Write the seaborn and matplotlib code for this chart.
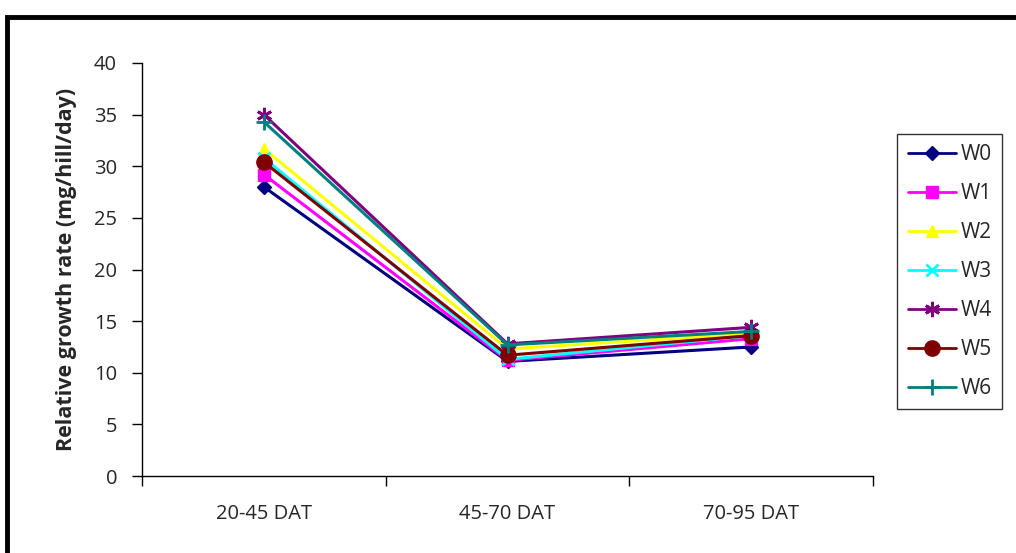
import matplotlib
matplotlib.use("Agg")
import matplotlib.pyplot as plt
import seaborn as sns
import pandas as pd
from matplotlib.patches import Rectangle

# Relative growth rate per treatment over three growth intervals
periods = ["20-45 DAT", "45-70 DAT", "70-95 DAT"]
treatments = ["W0", "W1", "W2", "W3", "W4", "W5", "W6"]
w0 = [28.0, 11.1, 12.5]
w1 = [29.2, 11.2, 13.3]
w2 = [31.7, 12.3, 13.8]
w3 = [30.8, 11.3, 13.6]
w4 = [35.0, 12.8, 14.4]
w5 = [30.4, 11.7, 13.6]
w6 = [34.3, 12.7, 14.0]
series = [w0, w1, w2, w3, w4, w5, w6]

colors = ["#000080", "#FF00FF", "#FFFF00", "#00FFFF", "#800080", "#800000", "#008080"]
marker_shapes = ["D", "s", "^", "x", (6, 2, 0), "o", "+"]
marker_sizes = [7, 9, 9, 9, 11, 11, 11]

rows = []
for name, vals in zip(treatments, series):
    for i, v in enumerate(vals):
        rows.append({"period": i, "treatment": name, "rgr": v})
df = pd.DataFrame(rows)

sns.set_style("white")
plt.rcParams["font.family"] = ["Open Sans", "DejaVu Sans"]

fig = plt.figure(figsize=(10.16, 5.53), dpi=100)
ax = fig.add_axes([0.1398, 0.1392, 0.7195, 0.7469])

# Outer chart frame (left and top edges visible)
fig.patches.append(Rectangle((0.0065, -0.05), 1.2, 1.019, transform=fig.transFigure,
                             fill=False, edgecolor="black", linewidth=3.5, zorder=10))

for name, col, mk, ms in zip(treatments, colors, marker_shapes, marker_sizes):
    sub = df[df["treatment"] == name]
    sns.lineplot(data=sub, x="period", y="rgr", ax=ax, color=col, marker=mk,
                 markersize=ms, markeredgecolor=col,
                 markeredgewidth=2 if mk in ("x", "+", (6, 2, 0)) else 1,
                 linewidth=2.2, label=name, errorbar=None)

ax.set_xlim(-0.5, 2.5)
ax.set_ylim(0, 40)
ax.set_yticks(range(0, 41, 5))
ax.set_xticks([0, 1, 2])
ax.set_xticklabels(periods)
ax.set_xticks([-0.5, 0.5, 1.5, 2.5], minor=True)
ax.tick_params(axis="x", which="major", length=0, pad=20, labelsize=14.5)
ax.tick_params(axis="x", which="minor", length=7, width=1, direction="out", bottom=True, color="black")
ax.tick_params(axis="y", length=7, width=1, direction="out", left=True, color="black",
               labelsize=14.5, pad=11)

for side in ["top", "right"]:
    ax.spines[side].set_visible(False)
for side in ["left", "bottom"]:
    ax.spines[side].set_color("black")
    ax.spines[side].set_linewidth(1)

ax.set_xlabel("")
ax.set_ylabel("Relative growth rate (mg/hill/day)", fontsize=15.5, fontweight="bold", labelpad=12)

leg = ax.legend(loc="upper left", bbox_to_anchor=(1.033, 0.828), frameon=True, fancybox=False,
                edgecolor="black", fontsize=15, handlelength=2.3, labelspacing=0.86,
                borderpad=0.5, handletextpad=0.25, borderaxespad=0)
leg.get_frame().set_linewidth(1)
for line in leg.get_lines():
    line.set_linewidth(2)

fig.savefig("out.png", dpi=100)
